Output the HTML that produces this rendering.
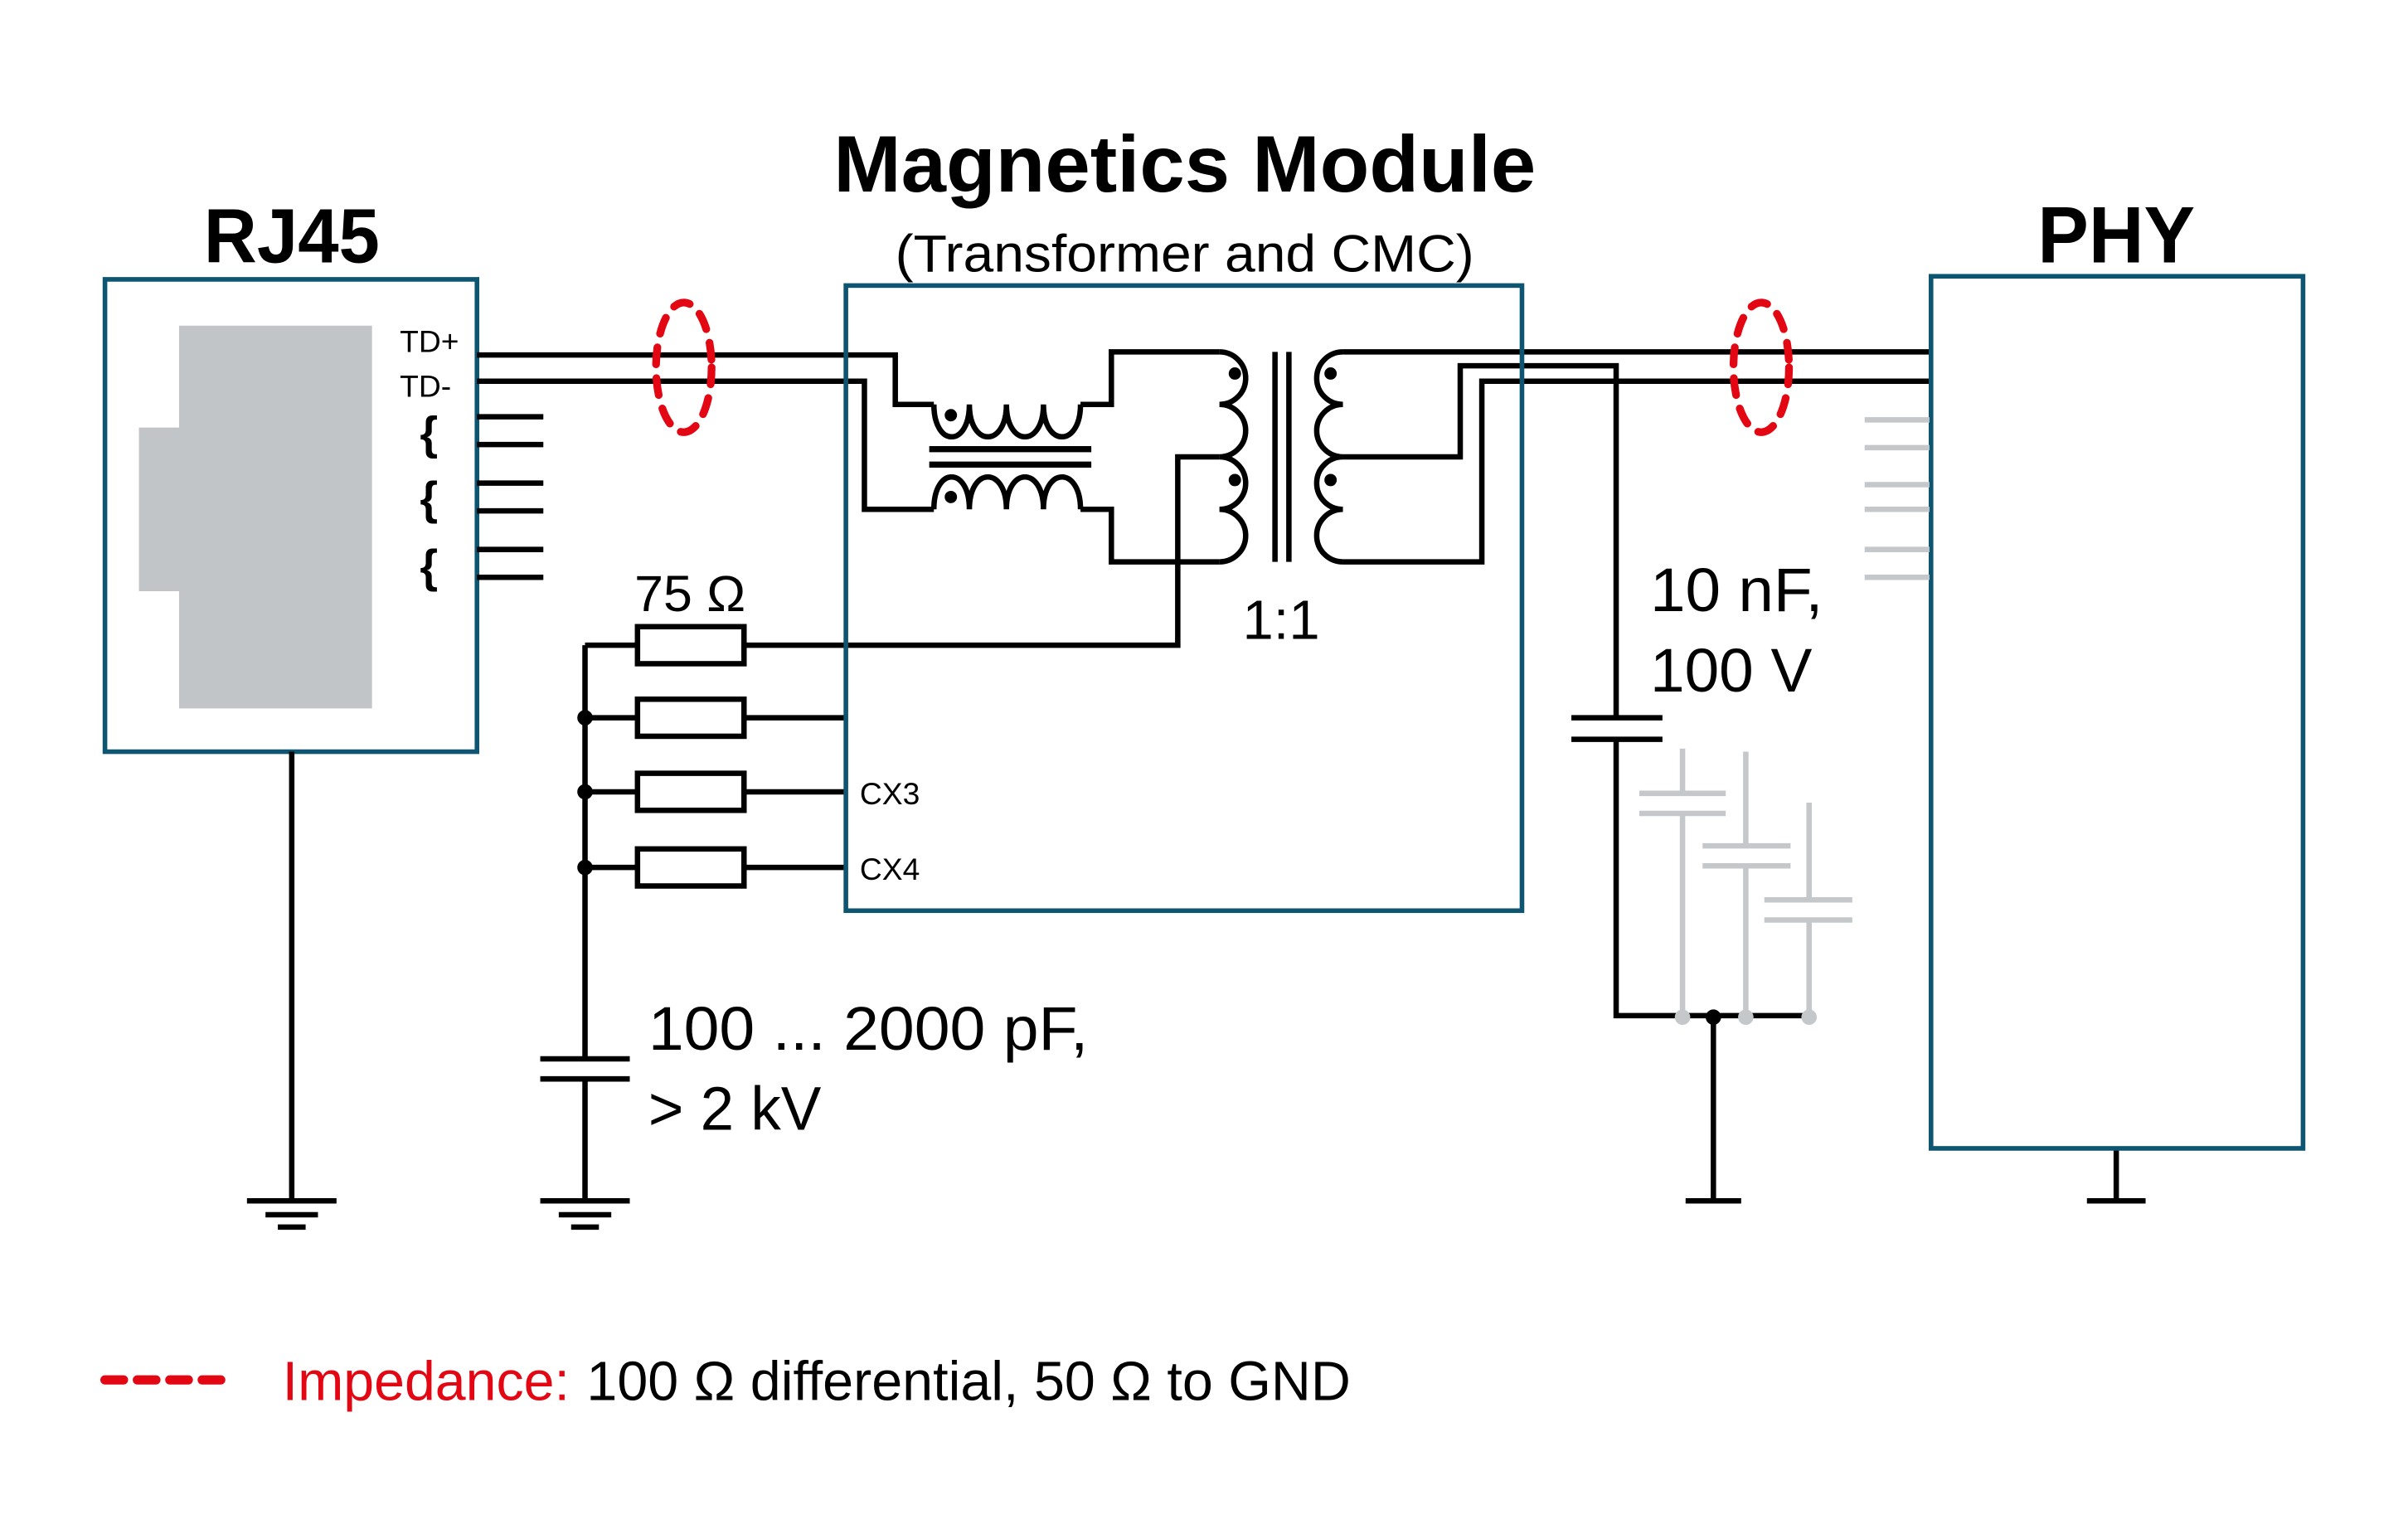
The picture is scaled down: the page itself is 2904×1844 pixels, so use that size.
<!DOCTYPE html>
<html><head><meta charset="utf-8"><style>html,body{margin:0;padding:0;background:#fff}svg{display:block}</style></head>
<body>
<svg width="2904" height="1844" viewBox="0 0 1560 990.6" preserveAspectRatio="none" xmlns="http://www.w3.org/2000/svg" font-family="'Liberation Sans', sans-serif">
<rect width="1560" height="991" fill="#fff"/>
<!-- Titles -->
<text x="132" y="170" font-size="50" font-weight="bold" textLength="114" lengthAdjust="spacingAndGlyphs">RJ45</text>
<text x="540" y="124" font-size="52" font-weight="bold" textLength="455" lengthAdjust="spacingAndGlyphs">Magnetics Module</text>
<text x="580" y="176" font-size="34" textLength="375" lengthAdjust="spacingAndGlyphs">(Transformer and CMC)</text>
<text x="1320" y="170" font-size="52" font-weight="bold" textLength="102" lengthAdjust="spacingAndGlyphs">PHY</text>

<!-- RJ45 box -->
<path d="M116,211 H241 V459 H116 V383 H90 V277 H116 Z" fill="#c1c5c7"/>
<rect x="68" y="181" width="241" height="306" fill="none" stroke="#0d5570" stroke-width="3"/>
<text x="259" y="228" font-size="20">TD+</text>
<text x="259" y="257" font-size="20">TD-</text>
<g font-size="30" font-weight="bold"><text x="272" y="291">{</text><text x="272" y="333">{</text><text x="272" y="377">{</text></g>
<g stroke="#000" stroke-width="3.5" fill="none">
<path d="M309,270H352M309,288H352M309,313H352M309,331H352M309,356H352M309,374H352"/>
<!-- TD lines into magnetics -->
<path d="M309,230H580V262H605"/>
<path d="M309,247H560V330H605"/>
<!-- CMC coils -->
<path d="M605,262 C605,290 628,290 628,262 C628,290 652,290 652,262 C652,290 676,290 676,262 C676,290 700,290 700,262"/>
<path d="M605,330 C605,302 628,302 628,330 C628,302 652,302 652,330 C652,302 676,302 676,330 C676,302 700,302 700,330"/>
<path d="M700,262H720V228H790M700,330H720V364H790"/>
<path d="M602,291H707M602,301H707" stroke-width="4"/>
<!-- primary -->
<path d="M790,228 A17,17 0 0 1 790,262 A17,17 0 0 1 790,296 A17,17 0 0 1 790,330 A17,17 0 0 1 790,364"/>
<path d="M790,296H763V418H482"/>
<path d="M826,228V364M835,228V364"/>
<!-- secondary -->
<path d="M870,228 A17,17 0 0 0 870,262 A17,17 0 0 0 870,296 A17,17 0 0 0 870,330 A17,17 0 0 0 870,364"/>
<path d="M870,228H1250"/>
<path d="M870,296H946V237H1047V465"/>
<path d="M870,364H960V247H1250"/>
<!-- 10nF cap -->
<path d="M1018,465H1077M1018,479H1077"/>
<path d="M1047,479V658H1170M1110,658V778M1092,778H1128"/>
<!-- resistors -->
<rect x="413" y="406" width="69" height="24"/>
<rect x="413" y="453" width="69" height="24"/>
<rect x="413" y="501" width="69" height="24"/>
<rect x="413" y="550" width="69" height="24"/>
<path d="M379,418H413M379,465H413M379,513H413M379,562H413M482,465H548M482,513H548M482,562H548"/>
<path d="M379,418V686M350,686H408M350,699H408M379,699V778M350,778H408M362,787H396M370,795H388"/>
<!-- RJ45 ground -->
<path d="M189,487V778M160,778H218M172,787H206M180,795H198"/>
<!-- PHY ground -->
<path d="M1371,744V778M1352,778H1390"/>
</g>
<g fill="#000"><circle cx="616" cy="269" r="4"/><circle cx="616" cy="322" r="4"/><circle cx="800" cy="242" r="4"/><circle cx="800" cy="311" r="4"/><circle cx="862" cy="242" r="4"/><circle cx="862" cy="311" r="4"/>
<circle cx="379" cy="465" r="5"/><circle cx="379" cy="513" r="5"/><circle cx="379" cy="562" r="5"/><circle cx="1110" cy="659" r="5"/></g>
<!-- Magnetics box -->
<rect x="548" y="185" width="438" height="405" fill="none" stroke="#0d5570" stroke-width="3"/>
<!-- PHY box -->
<rect x="1251" y="179" width="241" height="565" fill="none" stroke="#0d5570" stroke-width="3"/>
<!-- gray -->
<g stroke="#c4c8ca" stroke-width="3.5" fill="none">
<path d="M1208,272H1250M1208,290H1250M1208,314H1250M1208,330H1250M1208,356H1250M1208,374H1250"/>
<path d="M1090,485V514M1062,514H1118M1062,527H1118M1090,527V658"/>
<path d="M1131,487V548M1103,548H1160M1103,561H1160M1131,561V658"/>
<path d="M1172,520V583M1143,583H1200M1143,596H1200M1172,596V658"/>
</g>
<g fill="#c4c8ca"><circle cx="1090" cy="659" r="5"/><circle cx="1131" cy="659" r="5"/><circle cx="1172" cy="659" r="5"/></g>
<!-- labels -->
<text x="411" y="396" font-size="33" textLength="72" lengthAdjust="spacingAndGlyphs">75 Ω</text>
<text x="805" y="414" font-size="36">1:1</text>
<text x="557" y="521" font-size="20">CX3</text>
<text x="557" y="570" font-size="20">CX4</text>
<text x="1069" y="396" font-size="40" textLength="112" lengthAdjust="spacingAndGlyphs">10 nF,</text>
<text x="1069" y="448" font-size="40" textLength="105" lengthAdjust="spacingAndGlyphs">100 V</text>
<text x="420" y="680" font-size="40" textLength="285" lengthAdjust="spacingAndGlyphs">100 ... 2000 pF,</text>
<text x="420" y="732" font-size="40" textLength="112" lengthAdjust="spacingAndGlyphs">&gt; 2 kV</text>
<!-- red ellipses -->
<g stroke="#e30613" stroke-width="5" fill="none" stroke-dasharray="11 9" stroke-linecap="round">
<ellipse cx="443" cy="238" rx="18" ry="42"/>
<ellipse cx="1141" cy="238" rx="18" ry="42"/>
<path d="M68,894H145" stroke-width="6" stroke-dasharray="12 9"/>
</g>
<text x="183" y="907" font-size="36" fill="#e30613" textLength="186" lengthAdjust="spacingAndGlyphs">Impedance:</text>
<text x="380" y="907" font-size="36" textLength="495" lengthAdjust="spacingAndGlyphs">100 Ω differential, 50 Ω to GND</text>
</svg>
</body></html>
